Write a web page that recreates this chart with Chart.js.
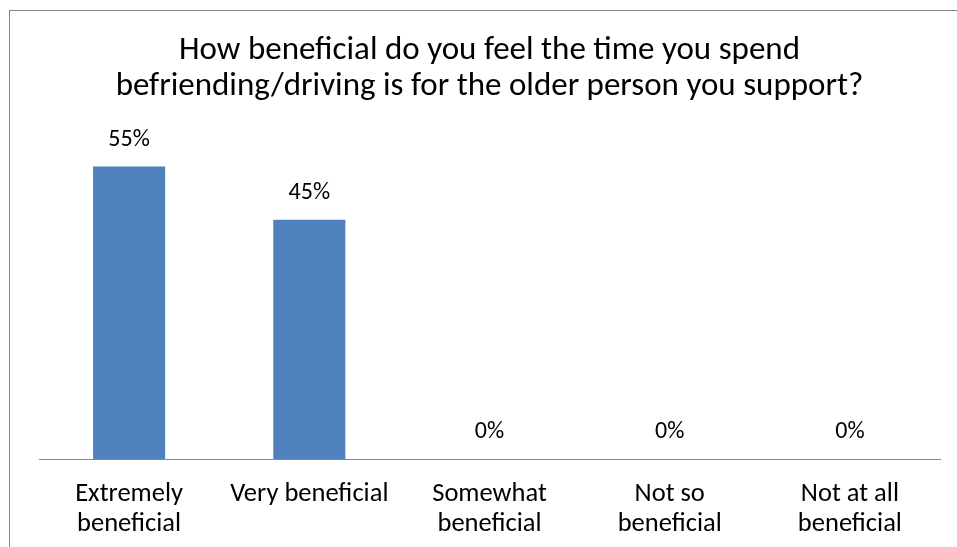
<!DOCTYPE html>
<html>
<head>
<meta charset="utf-8">
<script src="https://cdn.jsdelivr.net/npm/chart.js@4.4.1/dist/chart.umd.min.js"></script>
<style>
  html, body { margin: 0; padding: 0; background: #fff; overflow: hidden; }
  #wrap { position: relative; width: 957px; height: 547px; }
  #frame { position: absolute; left: 9px; top: 10px; width: 980px; height: 580px; border: 1px solid #868686; box-sizing: border-box; pointer-events: none; }
  canvas { position: absolute; left: 0; top: 0; }
</style>
</head>
<body>
<div id="wrap">
  <canvas id="benefitChart" width="957" height="547"></canvas>
  <div id="frame"></div>
</div>
<script>
const titleLines = ['How beneficial do you feel the time you spend', 'befriending/driving is for the older person you support?'];
const categories = [
    ['Extremely', 'beneficial'],
    'Very beneficial',
    ['Somewhat', 'beneficial'],
    ['Not so', 'beneficial'],
    ['Not at all', 'beneficial']
];
const percentages = [55, 45, 0, 0, 0];

const fontFamily = 'Calibri, Carlito, Lato, sans-serif';

// writes "NN%" above each bar
const valueLabels = {
    id: 'valueLabels',
    afterDatasetsDraw(chart) {
        const ctx = chart.ctx;
        const meta = chart.getDatasetMeta(0);
        ctx.save();
        ctx.font = '24px ' + fontFamily;
        ctx.fillStyle = '#000';
        ctx.textAlign = 'center';
        ctx.textBaseline = 'middle';
        meta.data.forEach((bar, i) => {
            ctx.fillText(percentages[i] + '%', bar.x, bar.y - 27);
        });
        ctx.restore();
    }
};

new Chart(document.getElementById('benefitChart'), {
    type: 'bar',
    data: {
        labels: categories,
        datasets: [{
            data: percentages,
            backgroundColor: '#4F81BD',
            barPercentage: 0.4,
            categoryPercentage: 1
        }]
    },
    options: {
        responsive: false,
        animation: false,
        layout: { padding: { left: 39, right: 17, top: 12, bottom: 0 } },
        plugins: {
            legend: { display: false },
            tooltip: { enabled: false },
            title: {
                display: true,
                text: titleLines,
                color: '#000',
                font: { family: fontFamily, size: 33, weight: 'normal', lineHeight: 36 / 33 },
                padding: { top: 21, bottom: 35 }
            }
        },
        scales: {
            x: {
                grid: { display: false, drawTicks: false },
                border: { display: true, color: '#888', width: 1 },
                ticks: {
                    color: '#000',
                    padding: 20,
                    maxRotation: 0,
                    autoSkip: false,
                    font: { family: fontFamily, size: 26.5, lineHeight: 30 / 26.5 }
                },
                // keep the label band a fixed height so the baseline sits low
                afterFit(scale) {
                    scale.height = 88;
                }
            },
            y: {
                display: false,
                min: 0,
                max: 60
            }
        }
    },
    plugins: [valueLabels]
});
</script>
</body>
</html>
